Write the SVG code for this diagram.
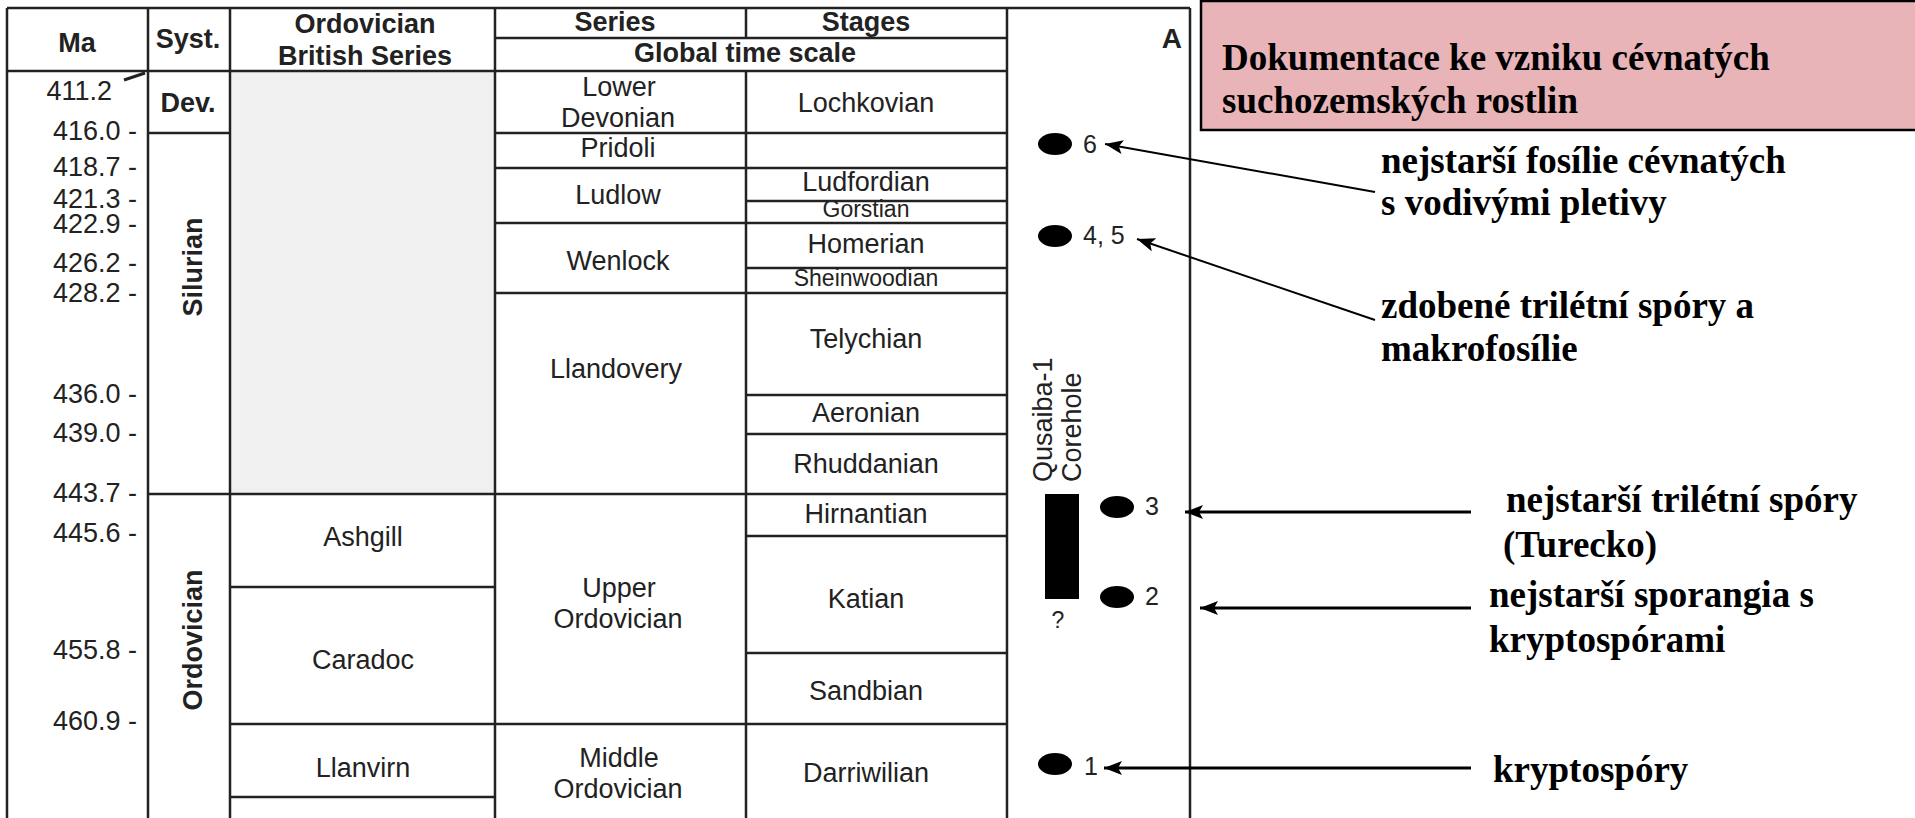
<svg xmlns="http://www.w3.org/2000/svg" width="1915" height="818" viewBox="0 0 1915 818">
<defs>
<style>
.ln{stroke:#222;stroke-width:2.5;fill:none}
.t{font-family:"Liberation Sans",Arial,sans-serif;font-size:27px;fill:#222}
.b{font-weight:bold}
.m{text-anchor:middle}
.e{text-anchor:end}
.sm{font-size:23px}
.dg{font-size:25px}
.r{font-family:"Liberation Serif","Times New Roman",serif;font-weight:bold;font-size:37px;fill:#000}
.ar{stroke:#000;fill:none}
</style>
<marker id="ah" markerWidth="18" markerHeight="14" refX="18" refY="7" orient="auto" markerUnits="userSpaceOnUse">
<path d="M0,0 L18,7 L0,14 L4,7 z" fill="#000"/>
</marker>
</defs>
<rect width="1915" height="818" fill="#fff"/>

<g id="table">
<rect x="231" y="72" width="263" height="421" fill="#f0f0f0"/>
<path class="ln" d="M7,8 H1190 M7,8 V818 M148,8 V818 M230,8 V818 M495,8 V818 M1007,8 V818 M1190,8 V818 M746,8 V38 M746,71 V818 M495,38 H1007 M7,71 H1007 M148,133 H230 M495,133 H1007 M495,168 H1007 M746,201 H1007 M495,223 H1007 M746,268 H1007 M495,293 H1007 M746,395 H1007 M746,434 H1007 M148,494 H1007 M746,536 H1007 M230,587 H495 M746,653 H1007 M230,724 H1007 M230,797 H495"/>
</g>

<g id="headers">
<text class="t b m" x="77" y="52">Ma</text>
<text class="t b m" x="188" y="48">Syst.</text>
<text class="t b m" x="365" y="33">Ordovician</text>
<text class="t b m" x="365" y="65">British Series</text>
<text class="t b m" x="615" y="31">Series</text>
<text class="t b m" x="866" y="31">Stages</text>
<text class="t b m" x="745" y="62">Global time scale</text>
<text class="t b e" x="1182" y="48" style="font-size:28px">A</text>
</g>

<g id="ma-scale">
<text class="t e" x="112" y="100">411.2</text>
<line x1="124" y1="80" x2="145" y2="73" stroke="#222" stroke-width="3"/>
<text class="t e" x="137" y="140">416.0 -</text>
<text class="t e" x="137" y="176">418.7 -</text>
<text class="t e" x="137" y="208">421.3 -</text>
<text class="t e" x="137" y="233">422.9 -</text>
<text class="t e" x="137" y="272">426.2 -</text>
<text class="t e" x="137" y="302">428.2 -</text>
<text class="t e" x="137" y="403">436.0 -</text>
<text class="t e" x="137" y="442">439.0 -</text>
<text class="t e" x="137" y="502">443.7 -</text>
<text class="t e" x="137" y="542">445.6 -</text>
<text class="t e" x="137" y="659">455.8 -</text>
<text class="t e" x="137" y="730">460.9 -</text>
</g>

<g id="systems">
<text class="t b m" x="188" y="112">Dev.</text>
<text class="t b m" transform="translate(202,267) rotate(-90)">Silurian</text>
<text class="t b m" transform="translate(202,640) rotate(-90)">Ordovician</text>
</g>

<g id="british-series">
<text class="t m" x="363" y="546">Ashgill</text>
<text class="t m" x="363" y="669">Caradoc</text>
<text class="t m" x="363" y="777">Llanvirn</text>
</g>

<g id="series">
<text class="t m" x="619" y="96">Lower</text>
<text class="t m" x="618" y="127">Devonian</text>
<text class="t m" x="618" y="157">Pridoli</text>
<text class="t m" x="618" y="204">Ludlow</text>
<text class="t m" x="618" y="270">Wenlock</text>
<text class="t m" x="616" y="378">Llandovery</text>
<text class="t m" x="619" y="597">Upper</text>
<text class="t m" x="618" y="628">Ordovician</text>
<text class="t m" x="619" y="767">Middle</text>
<text class="t m" x="618" y="798">Ordovician</text>
</g>

<g id="stages">
<text class="t m" x="866" y="112">Lochkovian</text>
<text class="t m" x="866" y="191">Ludfordian</text>
<text class="t m sm" x="866" y="217">Gorstian</text>
<text class="t m" x="866" y="253">Homerian</text>
<text class="t m sm" x="866" y="286">Sheinwoodian</text>
<text class="t m" x="866" y="348">Telychian</text>
<text class="t m" x="866" y="422">Aeronian</text>
<text class="t m" x="866" y="473">Rhuddanian</text>
<text class="t m" x="866" y="523">Hirnantian</text>
<text class="t m" x="866" y="608">Katian</text>
<text class="t m" x="866" y="700">Sandbian</text>
<text class="t m" x="866" y="782">Darriwilian</text>
</g>

<g id="corehole">
<text class="t" transform="translate(1052,482) rotate(-90)">Qusaiba-1</text>
<text class="t" transform="translate(1081,482) rotate(-90)">Corehole</text>
<rect x="1045" y="494" width="34" height="105" fill="#000"/>
<text class="t m sm" x="1058" y="628">?</text>
</g>

<g id="dot-6"><ellipse cx="1055" cy="144" rx="17" ry="11" fill="#000"/><text class="t dg" x="1083" y="153">6</text></g>
<g id="dot-4-5"><ellipse cx="1055" cy="236" rx="17" ry="11" fill="#000"/><text class="t dg" x="1083" y="244">4, 5</text></g>
<g id="dot-3"><ellipse cx="1117" cy="507" rx="17" ry="11" fill="#000"/><text class="t dg" x="1145" y="515">3</text></g>
<g id="dot-2"><ellipse cx="1117" cy="597" rx="17" ry="11" fill="#000"/><text class="t dg" x="1145" y="605">2</text></g>
<g id="dot-1"><ellipse cx="1055" cy="764" rx="17" ry="11" fill="#000"/><text class="t dg" x="1084" y="775">1</text></g>

<g id="title">
<rect x="1201" y="1" width="720" height="129" fill="#e8b4b8" stroke="#000" stroke-width="2.5"/>
<text class="r" x="1222" y="70">Dokumentace ke vzniku cévnatých</text>
<text class="r" x="1222" y="113">suchozemských rostlin</text>
</g>

<g id="label-6">
<text class="r" x="1381" y="173">nejstarší fosílie cévnatých</text>
<text class="r" x="1381" y="215">s vodivými pletivy</text>
</g>
<g id="label-4-5">
<text class="r" x="1381" y="318">zdobené trilétní spóry a</text>
<text class="r" x="1381" y="361">makrofosílie</text>
</g>
<g id="label-3">
<text class="r" x="1506" y="512">nejstarší trilétní spóry</text>
<text class="r" x="1503" y="557">(Turecko)</text>
</g>
<g id="label-2">
<text class="r" x="1489" y="607">nejstarší sporangia s</text>
<text class="r" x="1489" y="652">kryptospórami</text>
</g>
<g id="label-1">
<text class="r" x="1493" y="782">kryptospóry</text>
</g>

<g id="connectors">
<line class="ar" x1="1375" y1="192" x2="1105" y2="144" stroke-width="2" marker-end="url(#ah)"/>
<line class="ar" x1="1375" y1="320" x2="1137" y2="239" stroke-width="2" marker-end="url(#ah)"/>
<line class="ar" x1="1471" y1="512" x2="1185" y2="512" stroke-width="3" marker-end="url(#ah)"/>
<line class="ar" x1="1471" y1="608" x2="1200" y2="608" stroke-width="3" marker-end="url(#ah)"/>
<line class="ar" x1="1471" y1="768" x2="1104" y2="768" stroke-width="3" marker-end="url(#ah)"/>
</g>
</svg>
